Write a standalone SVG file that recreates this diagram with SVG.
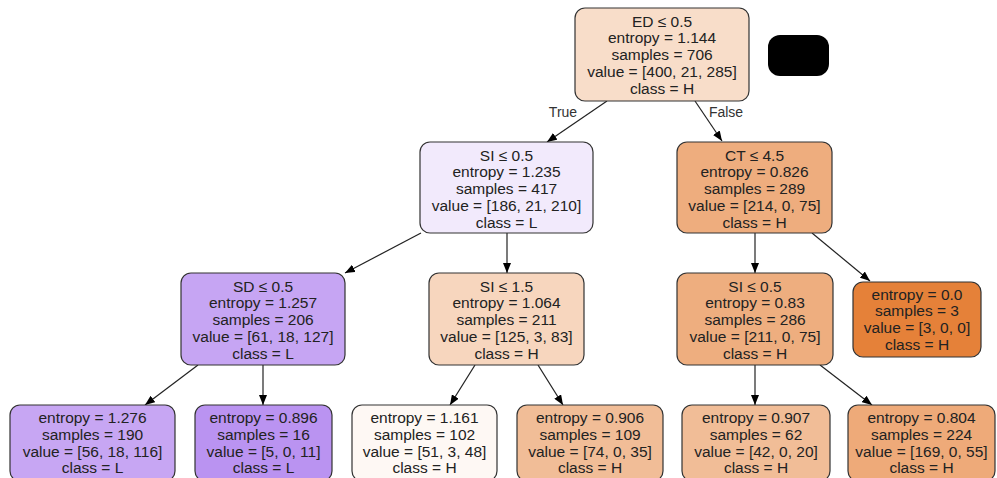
<svg xmlns="http://www.w3.org/2000/svg" width="997" height="478" viewBox="0 0 997 478">
<defs>
<marker id="ah" markerWidth="10" markerHeight="8" refX="10" refY="4" orient="auto" markerUnits="userSpaceOnUse">
<path d="M0,0 L10,4 L0,8 Z" fill="#000"/>
</marker>
<style>
.n{stroke:#333;stroke-width:1.2}
.t{font-family:"Liberation Sans",Arial,sans-serif;font-size:15.5px;fill:#222;text-anchor:middle}
.e{stroke:#222;stroke-width:1.2;fill:none;marker-end:url(#ah)}
.l{font-family:"Liberation Sans",Arial,sans-serif;font-size:14px;fill:#333;text-anchor:middle}
</style>
</defs>
<rect width="997" height="478" fill="#fff"/>
<g id="connectors">
<line class="e" x1="607" y1="101" x2="547" y2="142"/>
<line class="e" x1="695" y1="101" x2="722" y2="141"/>
<line class="e" x1="421" y1="233" x2="345" y2="273"/>
<line class="e" x1="507" y1="233" x2="507" y2="273"/>
<line class="e" x1="755" y1="233" x2="755" y2="273"/>
<line class="e" x1="812" y1="233" x2="870" y2="281"/>
<line class="e" x1="198" y1="365" x2="145" y2="405"/>
<line class="e" x1="263" y1="365" x2="263" y2="405"/>
<line class="e" x1="475" y1="365" x2="450" y2="405"/>
<line class="e" x1="538" y1="365" x2="563" y2="405"/>
<line class="e" x1="755" y1="365" x2="755" y2="405"/>
<line class="e" x1="820" y1="365" x2="872" y2="405"/>
<text class="l" x="563" y="117">True</text>
<text class="l" x="726" y="117">False</text>
</g>
<g id="blackbox"><rect x="768" y="35" width="61" height="41" rx="12" fill="#000"/></g>
<g id="n0">
<rect class="n" x="575" y="8" width="174" height="93" rx="10" fill="#f8ddc9"/>
<text class="t" x="662" y="26.5">ED ≤ 0.5</text>
<text class="t" x="662" y="43.3">entropy = 1.144</text>
<text class="t" x="662" y="60">samples = 706</text>
<text class="t" x="662" y="77">value = [400, 21, 285]</text>
<text class="t" x="662" y="93.5">class = H</text>
</g>
<g id="n1">
<rect class="n" x="420" y="142" width="173" height="91" rx="10" fill="#f2eafc"/>
<text class="t" x="506.5" y="160.5">SI ≤ 0.5</text>
<text class="t" x="506.5" y="177.3">entropy = 1.235</text>
<text class="t" x="506.5" y="194">samples = 417</text>
<text class="t" x="506.5" y="211">value = [186, 21, 210]</text>
<text class="t" x="506.5" y="227.5">class = L</text>
</g>
<g id="n2">
<rect class="n" x="677" y="142" width="155" height="91" rx="10" fill="#eead7e"/>
<text class="t" x="754.5" y="160.5">CT ≤ 4.5</text>
<text class="t" x="754.5" y="177.3">entropy = 0.826</text>
<text class="t" x="754.5" y="194">samples = 289</text>
<text class="t" x="754.5" y="211">value = [214, 0, 75]</text>
<text class="t" x="754.5" y="227.5">class = H</text>
</g>
<g id="n3">
<rect class="n" x="181" y="273" width="164" height="92" rx="10" fill="#c6a5f3"/>
<text class="t" x="263" y="291.5">SD ≤ 0.5</text>
<text class="t" x="263" y="308.3">entropy = 1.257</text>
<text class="t" x="263" y="325">samples = 206</text>
<text class="t" x="263" y="342">value = [61, 18, 127]</text>
<text class="t" x="263" y="358.5">class = L</text>
</g>
<g id="n4">
<rect class="n" x="429" y="273" width="155" height="92" rx="10" fill="#f7d6be"/>
<text class="t" x="506.5" y="291.5">SI ≤ 1.5</text>
<text class="t" x="506.5" y="308.3">entropy = 1.064</text>
<text class="t" x="506.5" y="325">samples = 211</text>
<text class="t" x="506.5" y="342">value = [125, 3, 83]</text>
<text class="t" x="506.5" y="358.5">class = H</text>
</g>
<g id="n5">
<rect class="n" x="677" y="273" width="156" height="92" rx="10" fill="#eeae7f"/>
<text class="t" x="755" y="291.5">SI ≤ 0.5</text>
<text class="t" x="755" y="308.3">entropy = 0.83</text>
<text class="t" x="755" y="325">samples = 286</text>
<text class="t" x="755" y="342">value = [211, 0, 75]</text>
<text class="t" x="755" y="358.5">class = H</text>
</g>
<g id="n6">
<rect class="n" x="853" y="282" width="128" height="75" rx="10" fill="#e58139"/>
<text class="t" x="917" y="299.5">entropy = 0.0</text>
<text class="t" x="917" y="316.3">samples = 3</text>
<text class="t" x="917" y="333">value = [3, 0, 0]</text>
<text class="t" x="917" y="350">class = H</text>
</g>
<g id="n7">
<rect class="n" x="10" y="405" width="165" height="76" rx="10" fill="#c7a6f3"/>
<text class="t" x="92.5" y="423">entropy = 1.276</text>
<text class="t" x="92.5" y="440">samples = 190</text>
<text class="t" x="92.5" y="456.5">value = [56, 18, 116]</text>
<text class="t" x="92.5" y="473">class = L</text>
</g>
<g id="n8">
<rect class="n" x="195" y="405" width="137" height="76" rx="10" fill="#ba93f1"/>
<text class="t" x="263.5" y="423">entropy = 0.896</text>
<text class="t" x="263.5" y="440">samples = 16</text>
<text class="t" x="263.5" y="456.5">value = [5, 0, 11]</text>
<text class="t" x="263.5" y="473">class = L</text>
</g>
<g id="n9">
<rect class="n" x="352" y="405" width="145" height="76" rx="10" fill="#fef8f4"/>
<text class="t" x="424.5" y="423">entropy = 1.161</text>
<text class="t" x="424.5" y="440">samples = 102</text>
<text class="t" x="424.5" y="456.5">value = [51, 3, 48]</text>
<text class="t" x="424.5" y="473">class = H</text>
</g>
<g id="n10">
<rect class="n" x="517" y="405" width="146" height="76" rx="10" fill="#f1bd97"/>
<text class="t" x="590" y="423">entropy = 0.906</text>
<text class="t" x="590" y="440">samples = 109</text>
<text class="t" x="590" y="456.5">value = [74, 0, 35]</text>
<text class="t" x="590" y="473">class = H</text>
</g>
<g id="n11">
<rect class="n" x="682" y="405" width="148" height="76" rx="10" fill="#f1bd97"/>
<text class="t" x="756" y="423">entropy = 0.907</text>
<text class="t" x="756" y="440">samples = 62</text>
<text class="t" x="756" y="456.5">value = [42, 0, 20]</text>
<text class="t" x="756" y="473">class = H</text>
</g>
<g id="n12">
<rect class="n" x="848" y="405" width="147" height="76" rx="10" fill="#eeaa79"/>
<text class="t" x="921.5" y="423">entropy = 0.804</text>
<text class="t" x="921.5" y="440">samples = 224</text>
<text class="t" x="921.5" y="456.5">value = [169, 0, 55]</text>
<text class="t" x="921.5" y="473">class = H</text>
</g>
</svg>
